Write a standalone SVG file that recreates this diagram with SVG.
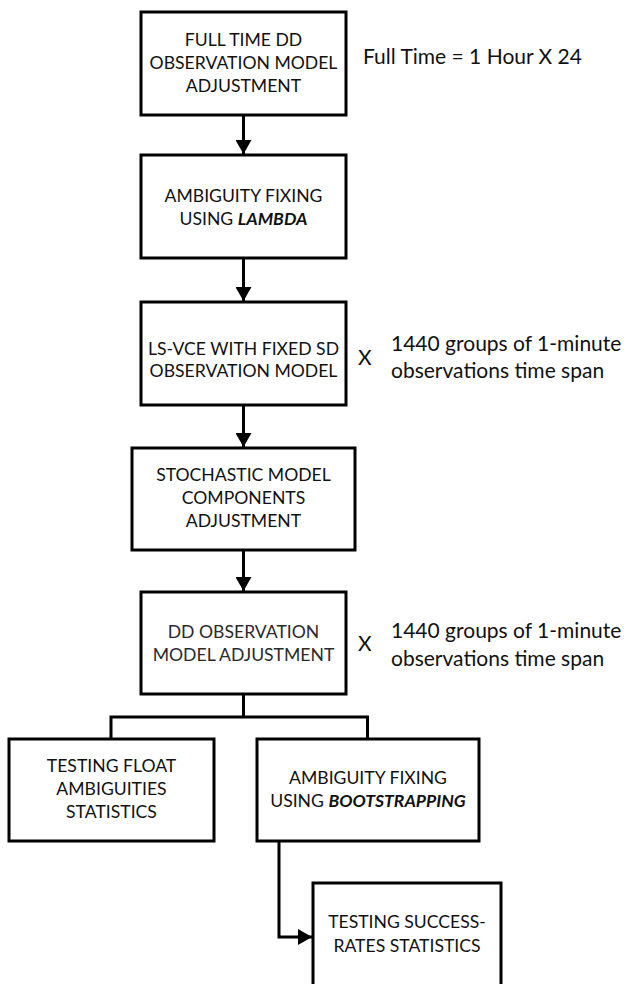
<svg xmlns="http://www.w3.org/2000/svg" width="630" height="984" viewBox="0 0 630 984">
<style>
  .box { fill: #fff; stroke: #000; stroke-width: 3; }
  .t { font-family: Lato, "Liberation Sans", Arial, sans-serif; font-size: 17.6px; fill: #111; text-anchor: middle; }
  .side { font-family: Lato, "Liberation Sans", Arial, sans-serif; font-size: 21px; fill: #111; }
  .bi { font-weight: bold; font-style: italic; }
  .light { fill: #2a2a2a; }
  .conn { fill: none; stroke: #000; stroke-width: 3; }
</style>
<defs>
  <marker id="arrow" viewBox="0 0 14 16" refX="14" refY="8" markerWidth="14" markerHeight="16" markerUnits="userSpaceOnUse" orient="auto">
    <path d="M0,0 L14,8 L0,16 Z" fill="#000"/>
  </marker>
</defs>
<rect width="630" height="984" fill="#fff"/>

<g id="connectors">
  <line class="conn" x1="243.5" y1="115" x2="243.5" y2="154" marker-end="url(#arrow)"/>
  <line class="conn" x1="243.5" y1="258" x2="243.5" y2="301" marker-end="url(#arrow)"/>
  <line class="conn" x1="243.5" y1="405" x2="243.5" y2="447" marker-end="url(#arrow)"/>
  <line class="conn" x1="243.5" y1="550" x2="243.5" y2="591" marker-end="url(#arrow)"/>
  <polyline class="conn" points="243.5,694 243.5,717"/>
  <polyline class="conn" points="111,739 111,717 367.5,717 367.5,739"/>
  <polyline class="conn" points="279,841 279,937 312,937" marker-end="url(#arrow)"/>
</g>

<g id="n1">
  <rect class="box" x="141" y="12" width="205" height="103"/>
  <text class="t" x="243.5" y="46">FULL TIME DD</text>
  <text class="t" x="243.5" y="69">OBSERVATION MODEL</text>
  <text class="t" x="243.5" y="92">ADJUSTMENT</text>
</g>
<g id="note1">
  <text class="side" x="363" y="64">Full Time = 1 Hour X 24</text>
</g>

<g id="n2">
  <rect class="box" x="141" y="155" width="205" height="103"/>
  <text class="t" x="243.5" y="202">AMBIGUITY FIXING</text>
  <text class="t" x="243.5" y="225">USING <tspan class="bi">LAMBDA</tspan></text>
</g>

<g id="n3">
  <rect class="box" x="141" y="302" width="205" height="103"/>
  <text class="t" x="243.5" y="355">LS-VCE WITH FIXED SD</text>
  <text class="t" x="243.5" y="377">OBSERVATION MODEL</text>
</g>
<g id="note3">
  <text class="side" x="358" y="365">X</text>
  <text class="side" x="391" y="351">1440 groups of 1-minute</text>
  <text class="side" x="391" y="378">observations time span</text>
</g>

<g id="n4">
  <rect class="box" x="132" y="448" width="223" height="102"/>
  <text class="t" x="243.5" y="481">STOCHASTIC MODEL</text>
  <text class="t" x="243.5" y="504">COMPONENTS</text>
  <text class="t" x="243.5" y="527">ADJUSTMENT</text>
</g>

<g id="n5">
  <rect class="box" x="141" y="592" width="205" height="102"/>
  <text class="t light" x="243.5" y="638">DD OBSERVATION</text>
  <text class="t light" x="243.5" y="661">MODEL ADJUSTMENT</text>
</g>
<g id="note5">
  <text class="side" x="358" y="651">X</text>
  <text class="side" x="391" y="638">1440 groups of 1-minute</text>
  <text class="side" x="391" y="666">observations time span</text>
</g>

<g id="n6">
  <rect class="box" x="9" y="739" width="205" height="102"/>
  <text class="t" x="111.5" y="772">TESTING FLOAT</text>
  <text class="t" x="111.5" y="795">AMBIGUITIES</text>
  <text class="t" x="111.5" y="818">STATISTICS</text>
</g>

<g id="n7">
  <rect class="box" x="257" y="739" width="222" height="102"/>
  <text class="t" x="368" y="784">AMBIGUITY FIXING</text>
  <text class="t" x="368" y="807">USING <tspan class="bi">BOOTSTRAPPING</tspan></text>
</g>

<g id="n8">
  <rect class="box" x="313" y="883" width="188" height="115"/>
  <text class="t" x="407" y="928">TESTING SUCCESS-</text>
  <text class="t" x="407" y="952">RATES STATISTICS</text>
</g>
</svg>
